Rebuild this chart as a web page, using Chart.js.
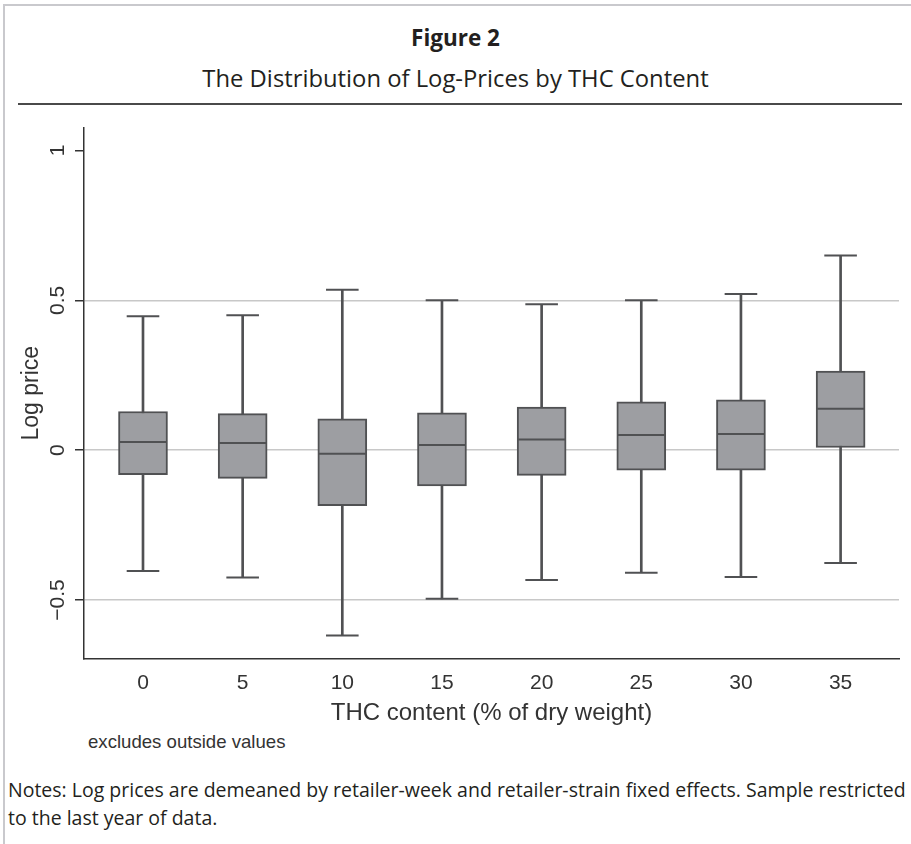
<!DOCTYPE html>
<html>
<head>
<meta charset="utf-8">
<script src="https://cdn.jsdelivr.net/npm/chart.js@4"></script>
<style>
  body { margin: 0; background: #fff; width: 911px; height: 844px; position: relative; overflow: hidden; }
  .frame-top { position: absolute; left: 3px; top: 4px; width: 908px; height: 2px; background: #c9c9cd; }
  .frame-left { position: absolute; left: 3px; top: 4px; width: 2px; height: 840px; background: #c9c9cd; }
  .rule { position: absolute; left: 18px; top: 103px; width: 884px; height: 2px; background: #4a4a4a; }
  .fig { position: absolute; left: 0; width: 911px; text-align: center; font-family: "Open Sans"; color: #231f20; line-height: 30px; }
  #figNum { top: 23px; font-size: 22.5px; font-weight: 700; }
  #figTitle { top: 63px; font-size: 23.8px; }
  #excl { position: absolute; left: 88px; top: 732px; font-family: "Liberation Sans"; font-size: 18.6px; line-height: 20px; color: #333; }
  #notes { position: absolute; left: 8px; top: 776px; font-family: "Open Sans"; font-size: 19.5px; line-height: 28px; color: #231f20; white-space: nowrap; }
  #chart { position: absolute; left: 0; top: 110px; }
</style>
</head>
<body>
<div class="frame-top"></div>
<div class="frame-left"></div>
<div class="fig" id="figNum">Figure 2</div>
<div class="fig" id="figTitle">The Distribution of Log-Prices by THC Content</div>
<div class="rule"></div>
<canvas id="chart" width="911" height="620"></canvas>
<div id="excl">excludes outside values</div>
<div id="notes">Notes: Log prices are demeaned by retailer-week and retailer-strain fixed effects. Sample restricted<br>to the last year of data.</div>
<script>
// THC content categories and box statistics
const thcLevels = [0, 5, 10, 15, 20, 25, 30, 35];
const lowerWhisker = [-0.403, -0.425, -0.618, -0.496, -0.433, -0.409, -0.423, -0.376];
const lowerQuartile = [-0.082, -0.094, -0.185, -0.119, -0.084, -0.067, -0.067, 0.009];
const medians = [0.027, 0.024, -0.012, 0.017, 0.036, 0.051, 0.054, 0.138];
const upperQuartile = [0.129, 0.122, 0.105, 0.125, 0.144, 0.161, 0.168, 0.264];
const upperWhisker = [0.447, 0.450, 0.535, 0.500, 0.487, 0.500, 0.521, 0.650];
const yTickValues = [-0.5, 0, 0.5, 1];
const yTickLabels = ['\u22120.5', '0', '0.5', '1'];

const lineCol = '#505153';
const boxFill = '#9d9ea2';

const rangeData = (lo, hi) => thcLevels.map((x, i) => ({ x: x, y: [lo[i], hi[i]] }));
const pointData = vals => thcLevels.map((x, i) => ({ x: x, y: vals[i] }));

// y tick labels drawn rotated, Stata style
const yTickLabelPlugin = {
    id: 'yTickLabels',
    afterDraw(chart) {
        const ctx = chart.ctx;
        const y = chart.scales.y;
        ctx.save();
        ctx.font = '21px "Liberation Sans"';
        ctx.fillStyle = '#333';
        ctx.textAlign = 'center';
        ctx.textBaseline = 'middle';
        yTickValues.forEach((v, i) => {
            ctx.save();
            ctx.translate(58, y.getPixelForValue(v));
            ctx.rotate(-Math.PI / 2);
            ctx.fillText(yTickLabels[i], 0, 0);
            ctx.restore();
        });
        ctx.restore();
    }
};

const capStyle = radius => ({
    type: 'scatter',
    pointStyle: 'line',
    pointRadius: radius,
    pointHoverRadius: radius,
    borderColor: lineCol,
    backgroundColor: lineCol,
    pointBorderWidth: 2,
    pointHoverBorderWidth: 2,
    order: 1
});

new Chart(document.getElementById('chart'), {
    type: 'bar',
    data: {
        datasets: [
            {
                label: 'whiskers',
                data: rangeData(lowerWhisker, upperWhisker),
                backgroundColor: lineCol,
                barThickness: 2,
                grouped: false,
                order: 3
            },
            {
                label: 'boxes',
                data: rangeData(lowerQuartile, upperQuartile),
                backgroundColor: boxFill,
                borderColor: lineCol,
                borderWidth: 2,
                borderSkipped: false,
                barThickness: 49,
                grouped: false,
                order: 2
            },
            Object.assign({ label: 'upper adj', data: pointData(upperWhisker) }, capStyle(16.3)),
            Object.assign({ label: 'lower adj', data: pointData(lowerWhisker) }, capStyle(16.3)),
            Object.assign({ label: 'median', data: pointData(medians) }, capStyle(23.5))
        ]
    },
    options: {
        responsive: false,
        animation: false,
        layout: { autoPadding: false, padding: { top: 18, right: 12, left: 0, bottom: 0 } },
        plugins: { legend: { display: false }, tooltip: { enabled: false } },
        scales: {
            x: {
                type: 'linear',
                min: -2.96,
                max: 37.93,
                offset: false,
                afterBuildTicks: s => { s.ticks = thcLevels.map(v => ({ value: v })); },
                afterFit: s => { s.height = 71.5; s.paddingLeft = 0; s.paddingRight = 0; },
                grid: { display: false, offset: false },
                border: { display: true, color: '#333', width: 1.5 },
                ticks: {
                    color: '#333',
                    font: { family: 'Liberation Sans', size: 21 },
                    padding: 4,
                    maxRotation: 0,
                    autoSkip: false
                },
                title: {
                    display: true,
                    text: 'THC content (% of dry weight)',
                    color: '#333',
                    font: { family: 'Liberation Sans', size: 24 },
                    padding: { top: 0, bottom: 2 }
                }
            },
            y: {
                min: -0.695,
                max: 1.075,
                afterBuildTicks: s => { s.ticks = yTickValues.map(v => ({ value: v })); },
                afterFit: s => { s.width = 84; s.paddingTop = 0; s.paddingBottom = 0; },
                grid: {
                    color: c => (c.tick && c.tick.value === 1) ? 'rgba(0,0,0,0)' : '#c8c8c8',
                    lineWidth: 1.5,
                    tickColor: '#333',
                    tickLength: 9,
                    tickWidth: 1.5
                },
                border: { display: true, color: '#333', width: 1.5 },
                ticks: { display: false },
                title: {
                    display: true,
                    text: 'Log price',
                    color: '#333',
                    font: { family: 'Liberation Sans', size: 23 },
                    padding: { top: 18 }
                }
            }
        }
    },
    plugins: [yTickLabelPlugin]
});
</script>
</body>
</html>
